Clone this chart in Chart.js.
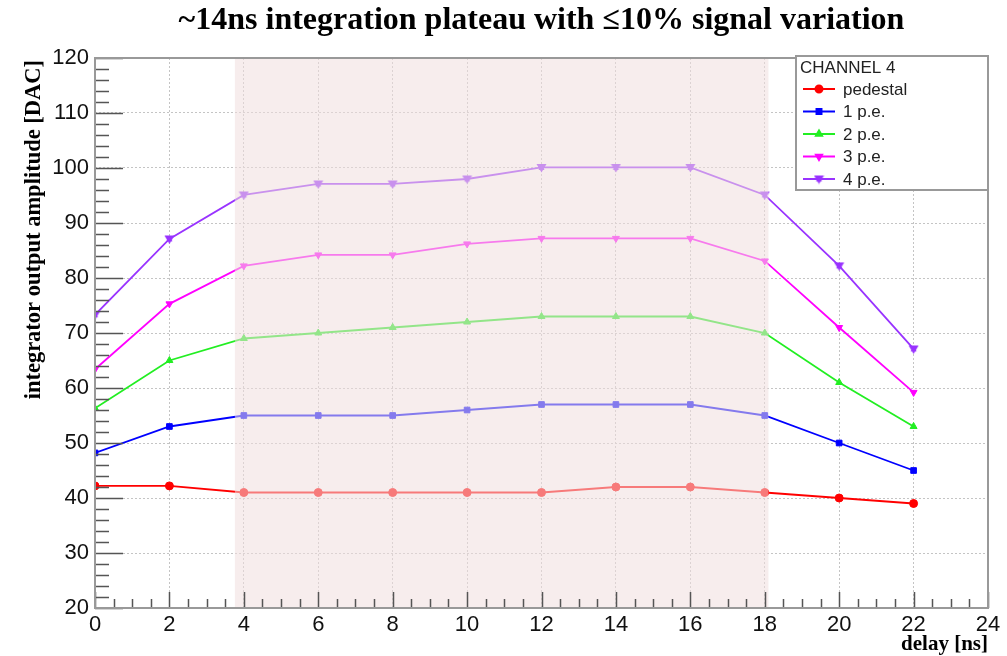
<!DOCTYPE html>
<html>
<head>
<meta charset="utf-8">
<script src="https://cdn.jsdelivr.net/npm/chart.js@4.4.1/dist/chart.umd.min.js"></script>
<style>
  html, body { margin: 0; padding: 0; background: #fff; }
</style>
</head>
<body>
<canvas id="chart" width="1007" height="656"></canvas>
<script>
// data
const delays = [0, 2, 4, 6, 8, 10, 12, 14, 16, 18, 20, 22];
const pedestal = [42.2, 42.2, 41, 41, 41, 41, 41, 42, 42, 41, 40, 39];
const pe1 = [48.2, 53, 55, 55, 55, 56, 57, 57, 57, 55, 50, 45];
const pe2 = [56.3, 65, 69, 70, 71, 72, 73, 73, 73, 70, 61, 53];
const pe3 = [63.4, 75.3, 82.2, 84.2, 84.2, 86.2, 87.2, 87.2, 87.2, 83.1, 71, 59.2];
const pe4 = [73.3, 87.1, 95.1, 97.1, 97.1, 98, 100.1, 100.1, 100.1, 95.1, 82.2, 67.1];
const plateau = [3.76, 18.1]; // shaded window [ns]

const xTicks = [0, 2, 4, 6, 8, 10, 12, 14, 16, 18, 20, 22, 24];
const yTicks = [20, 30, 40, 50, 60, 70, 80, 90, 100, 110, 120];

// star-like marker for 4 p.e.
const starMarker = (color) => {
  const c = document.createElement('canvas');
  c.width = 11; c.height = 11;
  const g = c.getContext('2d');
  g.fillStyle = color;
  g.beginPath(); g.moveTo(0.5, 2); g.lineTo(10.5, 2); g.lineTo(5.5, 10.5); g.closePath(); g.fill();
  g.beginPath(); g.moveTo(2.5, 8); g.lineTo(8.5, 8); g.lineTo(5.5, 2.5); g.closePath(); g.fill();
  return c;
};

const mk = (label, values, color, style, rot) => ({
  label,
  data: delays.map((d, i) => ({ x: d, y: values[i] })),
  borderColor: color,
  backgroundColor: color,
  borderWidth: 1.8,
  pointStyle: style,
  pointRotation: rot || 0,
  pointRadius: 4,
  pointBorderWidth: 1,
  tension: 0,
});

const datasets = [
  mk('pedestal', pedestal, '#ff0000', 'circle'),
  mk('1 p.e.', pe1, '#0000ff', 'rect'),
  mk('2 p.e.', pe2, '#22ee22', 'triangle'),
  mk('3 p.e.', pe3, '#ff00ff', 'triangle', 180),
  mk('4 p.e.', pe4, '#9933ff', starMarker('#9933ff')),
];

const rootDecor = {
  id: 'rootDecor',
  afterDatasetsDraw(chart) {
    const { ctx, chartArea: a, scales: { x } } = chart;
    const x0 = x.getPixelForValue(plateau[0]);
    const x1 = x.getPixelForValue(plateau[1]);
    ctx.save();
    ctx.fillStyle = 'rgba(240,222,222,0.55)';
    ctx.fillRect(x0, a.top, x1 - x0, a.bottom - a.top);
    ctx.restore();
  },
  afterDraw(chart) {
    const { ctx, chartArea: a, scales: { x, y } } = chart;
    ctx.save();
    // inward tick marks
    ctx.strokeStyle = '#555';
    ctx.lineWidth = 1.5;
    ctx.beginPath();
    for (let v = 20; v <= 120; v += 2) {
      const py = Math.round(y.getPixelForValue(v)) + 0.5;
      const len = v % 10 === 0 ? 28 : 14;
      ctx.moveTo(a.left, py); ctx.lineTo(a.left + len, py);
    }
    for (let v = 0; v <= 24; v += 0.5) {
      const px = Math.round(x.getPixelForValue(v)) + 0.5;
      const len = v % 2 === 0 ? 16 : 9;
      ctx.moveTo(px, a.bottom); ctx.lineTo(px, a.bottom - len);
    }
    ctx.stroke();
    // frame
    ctx.strokeStyle = '#999';
    ctx.lineWidth = 2;
    ctx.strokeRect(a.left, a.top, a.right - a.left, a.bottom - a.top);

    // legend box
    const lx = 796, ly = 56, lw = a.right - lx, lh = 134;
    ctx.fillStyle = '#fff';
    ctx.fillRect(lx, ly, lw, lh);
    ctx.strokeStyle = '#999';
    ctx.lineWidth = 2;
    ctx.strokeRect(lx, ly, lw, lh);
    ctx.fillStyle = '#222';
    ctx.font = '17px "Liberation Sans", Arial, sans-serif';
    ctx.textBaseline = 'middle';
    ctx.textAlign = 'left';
    ctx.fillText('CHANNEL 4', lx + 4, ly + 12);
    chart.data.datasets.forEach((ds, i) => {
      const ry = ly + 33 + i * 22.5;
      ctx.strokeStyle = ds.borderColor;
      ctx.lineWidth = 2;
      ctx.beginPath(); ctx.moveTo(lx + 7, ry); ctx.lineTo(lx + 39, ry); ctx.stroke();
      ctx.fillStyle = ds.borderColor;
      Chart.helpers.drawPoint(ctx, {
        pointStyle: ds.pointStyle, rotation: ds.pointRotation, radius: 3.5, borderWidth: 1,
      }, lx + 23, ry);
      ctx.fillStyle = '#222';
      ctx.fillText(ds.label, lx + 47, ry + 1);
    });

    // titles
    ctx.fillStyle = '#000';
    ctx.font = 'bold 32px "Liberation Serif", "Times New Roman", serif';
    ctx.textAlign = 'center';
    ctx.textBaseline = 'middle';
    ctx.fillText('~14ns integration plateau with \u226410% signal variation', (a.left + a.right) / 2, 21);

    ctx.font = 'bold 21px "Liberation Serif", "Times New Roman", serif';
    ctx.textAlign = 'right';
    ctx.textBaseline = 'alphabetic';
    ctx.fillText('delay [ns]', a.right, 650);

    ctx.font = 'bold 22.5px "Liberation Serif", "Times New Roman", serif';
    ctx.translate(40, a.top + 2);
    ctx.rotate(-Math.PI / 2);
    ctx.textAlign = 'right';
    ctx.fillText('integrator output amplitude [DAC]', 0, 0);
    ctx.restore();
  },
};

const tickFont = { family: '"Liberation Sans", Arial, sans-serif', size: 22 };

new Chart(document.getElementById('chart'), {
  type: 'line',
  data: { datasets },
  options: {
    responsive: false,
    animation: false,
    devicePixelRatio: 1,
    layout: { padding: { top: 58, right: 19, left: 0, bottom: 0 } },
    plugins: { legend: { display: false }, tooltip: { enabled: false } },
    scales: {
      x: {
        type: 'linear',
        min: 0,
        max: 24,
        afterBuildTicks: (s) => { s.ticks = xTicks.map(v => ({ value: v })); },
        afterFit: (s) => { s.height = 48; },
        ticks: { font: tickFont, color: '#111', padding: 4, maxRotation: 0 },
        grid: { color: '#c4c4c4', lineWidth: 1, drawTicks: false },
        border: { display: false, dash: [2, 2] },
      },
      y: {
        min: 20,
        max: 120,
        afterBuildTicks: (s) => { s.ticks = yTicks.map(v => ({ value: v })); },
        afterFit: (s) => { s.width = 95; },
        ticks: { font: tickFont, color: '#111', padding: 6 },
        grid: { color: '#c4c4c4', lineWidth: 1, drawTicks: false },
        border: { display: false, dash: [2, 2] },
      },
    },
  },
  plugins: [rootDecor],
});
</script>
</body>
</html>
